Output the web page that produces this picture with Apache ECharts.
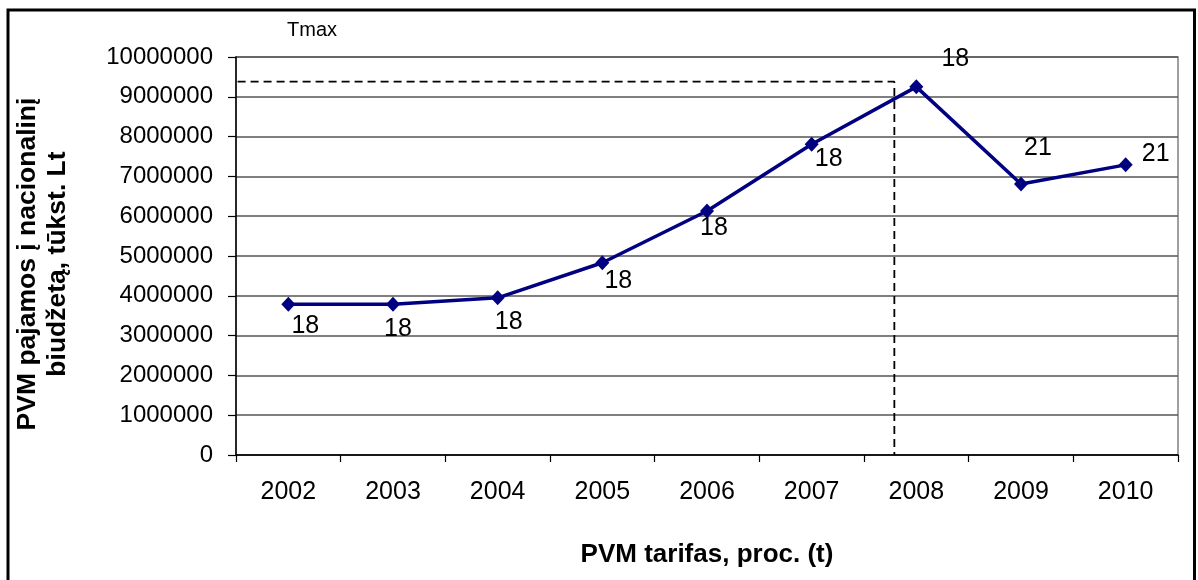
<!DOCTYPE html>
<html>
<head>
<meta charset="utf-8">
<script src="https://cdn.jsdelivr.net/npm/echarts@6/dist/echarts.min.js"></script>
<style>
  html, body { margin: 0; padding: 0; background: #fff; }
  #chart { width: 1198px; height: 580px; }
</style>
</head>
<body>
<div id="chart"></div>
<script>
// VAT revenue to the national budget (thousand Lt) and the VAT rate per year
const years = ['2002', '2003', '2004', '2005', '2006', '2007', '2008', '2009', '2010'];
const revenue = [3790000, 3790000, 3950000, 4830000, 6130000, 7810000, 9250000, 6810000, 7290000];
const rate = [18, 18, 18, 18, 18, 18, 18, 21, 21];

// Tmax guide: position along the year axis (in category units) and revenue level
const tmaxPos = 5.79;
const tmaxRevenue = 9380000;
const tmaxLeftReach = -1.23;

// y-axis ticks
const yMin = 0, yMax = 10000000, yStep = 1000000;

// hand-placed rate labels, offset from each marker in px
const labelOffsets = [[17, 22], [5, 25], [11, 24], [16, 18], [7, 17], [17, 15], [39, -28], [17, -36], [30, -11]];

const FONT = 'Liberation Sans, Arial, sans-serif';

const chart = echarts.init(document.getElementById('chart'), null, { renderer: 'canvas' });

const lineData = revenue.map((v, i) => ({
  value: v,
  label: {
    show: true,
    position: 'inside',
    offset: labelOffsets[i],
    formatter: String(rate[i])
  }
}));

chart.setOption({
  backgroundColor: '#fff',
  animation: false,
  grid: { left: 236, right: 20, top: 57, bottom: 125, show: true, borderColor: '#808080', borderWidth: 1.5, backgroundColor: 'transparent' },
  xAxis: [
    {
      type: 'category',
      data: years,
      boundaryGap: true,
      name: 'PVM tarifas, proc. (t)',
      nameLocation: 'middle',
      nameGap: 87,
      nameTextStyle: { fontFamily: FONT, fontSize: 26, fontWeight: 'bold', color: '#000' },
      axisLine: { lineStyle: { color: '#000', width: 1.5 } },
      axisTick: { show: true, length: 7, lineStyle: { color: '#000', width: 1.2 } },
      axisLabel: { fontFamily: FONT, fontSize: 25, color: '#000', margin: 25 },
      splitLine: { show: false }
    },
    {
      // continuous helper axis spanning the same width, used for the Tmax guide
      type: 'value',
      min: -0.5,
      max: years.length - 0.5,
      show: false
    }
  ],
  yAxis: {
    type: 'value',
    min: yMin,
    max: yMax,
    interval: yStep,
    name: 'PVM pajamos į nacionalinį\nbiudžetą, tūkst. Lt',
    nameLocation: 'middle',
    nameGap: 163,
    nameRotate: 90,
    nameTextStyle: { fontFamily: FONT, fontSize: 26.5, fontWeight: 'bold', color: '#000', lineHeight: 30, align: 'center', padding: [0, 16, 0, 0] },
    axisLine: { show: true, onZero: false, lineStyle: { color: '#000', width: 1.5 } },
    axisTick: { show: true, length: 8, lineStyle: { color: '#000', width: 1.2 } },
    axisLabel: { fontFamily: FONT, fontSize: 24, color: '#000', margin: 23, formatter: v => String(v) },
    splitLine: { show: true, lineStyle: { color: '#555', width: 1.5 } }
  },
  series: [
    {
      type: 'line',
      xAxisIndex: 0,
      data: lineData,
      symbol: 'diamond',
      symbolSize: [14, 15],
      lineStyle: { color: '#000080', width: 3.5 },
      itemStyle: { color: '#000080' },
      label: {
        fontFamily: FONT,
        fontSize: 25,
        color: '#000',
        align: 'center',
        verticalAlign: 'middle'
      },
      z: 5
    },
    {
      // Tmax guide: from the left margin across to Tmax, then down to the axis
      type: 'line',
      xAxisIndex: 1,
      data: [[tmaxLeftReach, tmaxRevenue], [tmaxPos, tmaxRevenue], [tmaxPos, 0]],
      symbol: 'none',
      clip: false,
      lineStyle: { color: '#000', width: 1.8, type: [8, 5] },
      silent: true,
      z: 3
    }
  ],
  graphic: [
    {
      type: 'rect',
      shape: { x: 8, y: 10, width: 1186.5, height: 620 },
      style: { fill: 'none', stroke: '#000', lineWidth: 3 },
      silent: true
    },
    {
      type: 'text',
      left: 287,
      top: 20,
      style: { text: 'Tmax', fontFamily: FONT, fontSize: 20, fill: '#000' }
    }
  ]
});
</script>
</body>
</html>
